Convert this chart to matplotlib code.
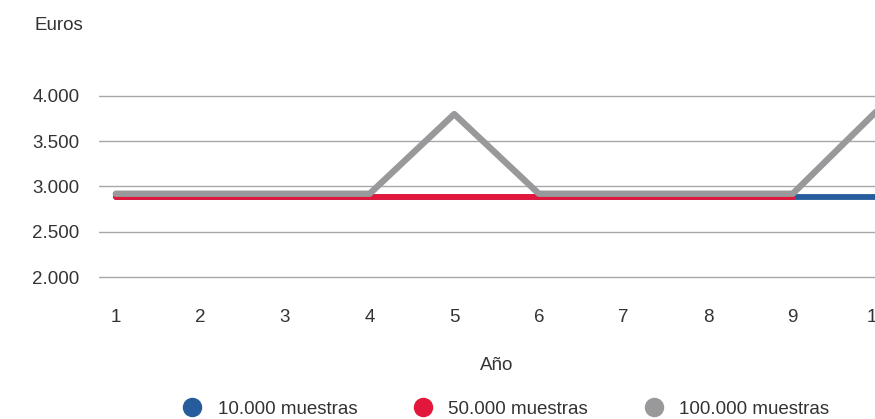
import matplotlib.pyplot as plt
from matplotlib.lines import Line2D

plt.rcParams['font.family'] = ['Liberation Sans', 'DejaVu Sans']

years = [1, 2, 3, 4, 5, 6, 7, 8, 9, 10]
s_10k = [2885, 2885, 2885, 2885, 2885, 2885, 2885, 2885, 2885, 2885]
s_50k = [2885, 2885, 2885, 2885, 2885, 2885, 2885, 2885, 2885]
s_100k = [2920, 2920, 2920, 2920, 3800, 2920, 2920, 2920, 2920, 3840]
y_ticks = [2000, 2500, 3000, 3500, 4000]
y_labels = ['2.000', '2.500', '3.000', '3.500', '4.000']
series_names = ['10.000 muestras', '50.000 muestras', '100.000 muestras']
colors = ['#275c9c', '#e2173b', '#99999b']

fig = plt.figure(figsize=(8.75, 4.19), dpi=100)
ax = fig.add_axes([0.113, 0.2957, 0.909, 0.5184])

ax.plot(years, s_10k, color=colors[0], lw=4.2, solid_capstyle='round', zorder=3)
ax.plot(years[:len(s_50k)], s_50k, color=colors[1], lw=4.2, solid_capstyle='round', zorder=4)
ax.plot(years, s_100k, color=colors[2], lw=4.6, solid_capstyle='round', zorder=5)

ax.set_xlim(0.8, 10.2)
ax.set_ylim(1800, 4200)
ax.set_xticks(years)
ax.set_yticks(y_ticks)
ax.set_yticklabels(y_labels)
ax.grid(axis='y', color='#a8a8aa', lw=1.0)
ax.set_axisbelow(True)
for s in ax.spines.values():
    s.set_visible(False)
ax.tick_params(length=0, labelsize=13.5, colors='#333333')
ax.tick_params(axis='y', pad=14)
ax.tick_params(axis='x', pad=10)
ax.set_xlabel('Año', fontsize=13.5, color='#333333', labelpad=22)

fig.text(35 / 875, 1 - 25 / 419, 'Euros', fontsize=13.5, color='#333333', va='center')

handles = [Line2D([], [], ls='none', marker='o', markersize=13, color=c) for c in colors]
fig.legend(handles, series_names, loc='center', bbox_to_anchor=(0.573, 1 - 409 / 419),
           ncol=3, frameon=False, fontsize=13.5, handletextpad=0.35, columnspacing=2.5,
           labelcolor='#333333')

fig.savefig('out.png', dpi=100)
